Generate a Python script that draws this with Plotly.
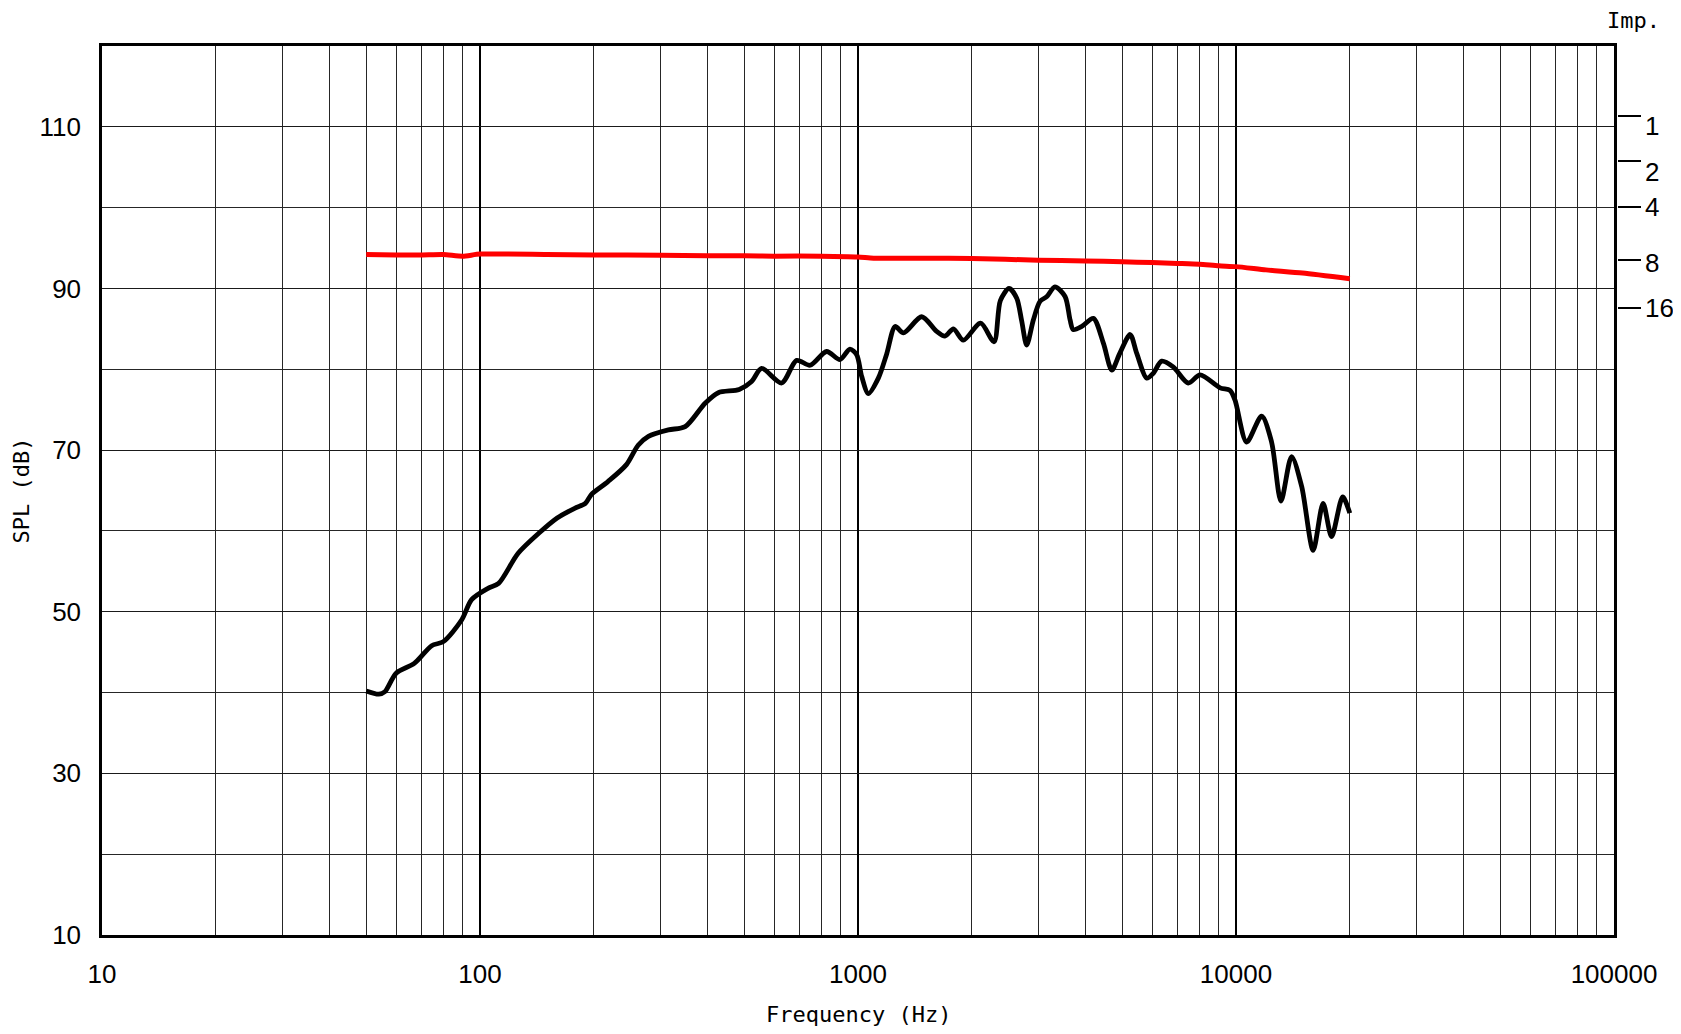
import plotly.graph_objects as go

# ---- data ----
spl_freq = [50, 54, 56, 60, 67, 74.5, 80, 89.5, 95, 105, 112, 126, 143, 160, 178, 190, 197, 218, 244, 262,
            279, 315, 349, 394, 427, 485, 523, 556, 628, 688, 747, 826, 896, 952, 992, 1023, 1065, 1132,
            1191, 1254, 1319, 1474, 1614, 1698, 1788, 1900, 2110, 2290, 2380, 2510, 2630, 2710, 2795,
            2910, 3030, 3160, 3318, 3530, 3640, 3711, 3910, 4194, 4460, 4693, 4930, 5248, 5460, 5808,
            6040, 6359, 6820, 7476, 8035, 9078, 9638, 9937, 10670, 11690, 12420, 13150, 14030, 14920,
            16000, 17000, 17900, 19150, 20000]
spl_db = [40.2, 39.8, 40.1, 42.4, 43.6, 45.8, 46.3, 49.0, 51.5, 52.9, 53.5, 57.2, 59.7, 61.6, 62.8, 63.4,
          64.5, 66.1, 68.2, 70.6, 71.7, 72.5, 72.9, 75.8, 77.1, 77.5, 78.5, 80.1, 78.3, 81.1, 80.5, 82.2,
          81.2, 82.5, 81.8, 79.1, 77.0, 78.9, 81.9, 85.3, 84.5, 86.5, 84.7, 84.1, 85.0, 83.6, 85.7, 83.4,
          88.5, 90.0, 88.8, 86.0, 83.0, 86.1, 88.4, 89.0, 90.2, 89.0, 86.1, 84.9, 85.3, 86.3, 83.2, 79.9,
          82.0, 84.3, 82.0, 78.9, 79.5, 81.0, 80.3, 78.3, 79.3, 77.7, 77.4, 76.2, 71.0, 74.2, 71.0, 63.7,
          69.2, 65.5, 57.6, 63.4, 59.3, 64.2, 62.2]

imp_freq = [50, 60, 70, 80, 90, 100, 150, 200, 300, 400, 500, 600, 800, 1000, 1100, 1500, 2000, 3000,
            4000, 5000, 6000, 7000, 8000, 9000, 10000, 12000, 15000, 20000]
imp_curve = [94.2, 94.15, 94.15, 94.2, 94.0, 94.25, 94.2, 94.15, 94.1, 94.05, 94.05, 94.0, 94.0, 93.9,
             93.75, 93.75, 93.7, 93.5, 93.4, 93.3, 93.2, 93.1, 93.0, 92.8, 92.7, 92.3, 91.9, 91.2]

x_major = [10, 100, 1000, 10000, 100000]
x_major_text = ["10", "100", "1000", "10000", "100000"]
x_minor = [m * d for d in [10, 100, 1000, 10000] for m in range(2, 10)]
y_major = [10, 30, 50, 70, 90, 110]
y_minor = [20, 40, 60, 80, 100]
imp_labels = ["1", "2", "4", "8", "16"]
imp_tick_pos = [111.4, 105.8, 100.1, 93.5, 87.6]   # where the Imp. marks sit on the SPL scale
imp_label_dy = [-10, -11, 0, -3, 0]                 # label offset from its mark (px)

# ---- figure ----
TICKFONT = dict(family="Liberation Sans Narrow, Arial Narrow, Liberation Sans, Arial", size=26, color="black")
TITLEFONT = dict(family="DejaVu Sans Mono, Liberation Mono, monospace", size=22, color="black")

fig = go.Figure()
fig.add_trace(go.Scatter(x=imp_freq, y=imp_curve, mode="lines",
                         line=dict(color="#ff0000", width=5, shape="spline", smoothing=0.6),
                         hoverinfo="skip", showlegend=False))
fig.add_trace(go.Scatter(x=spl_freq, y=spl_db, mode="lines",
                         line=dict(color="black", width=4.8, shape="spline", smoothing=0.8),
                         showlegend=False))
# invisible trace to activate the impedance axis
fig.add_trace(go.Scatter(x=[100], y=[50], yaxis="y2", mode="markers",
                         marker=dict(opacity=0), hoverinfo="skip", showlegend=False))

W, H = 1673, 1018          # page body has an 8 px margin
ml, mr, mt, mb = 94, 64, 38, 91
plot_w = 1512
paper_w = W - ml - mr

fig.update_layout(
    width=W, height=H,
    margin=dict(l=ml, r=mr, t=mt, b=mb, pad=0),
    paper_bgcolor="white", plot_bgcolor="white",
    xaxis=dict(type="log", range=[1, 5], domain=[0, plot_w / paper_w],
               tickvals=x_major, ticktext=x_major_text, tickfont=TICKFONT,
               showgrid=True, gridcolor="black", gridwidth=2,
               minor=dict(tickvals=x_minor, showgrid=True, gridcolor="#262626", gridwidth=1, ticks=""),
               showline=True, linecolor="black", linewidth=2.5, mirror=True,
               ticks="", ticklabelstandoff=14, zeroline=False),
    yaxis=dict(range=[10, 120], tickvals=y_major, tickfont=TICKFONT,
               showgrid=True, gridcolor="#1a1a1a", gridwidth=1,
               minor=dict(tickvals=y_minor, showgrid=True, gridcolor="#262626", gridwidth=1, ticks=""),
               showline=True, linecolor="black", linewidth=2.5, mirror=True,
               ticks="", ticklabelstandoff=13, zeroline=False),
    yaxis2=dict(range=[10, 120], overlaying="y", side="right", anchor="free", position=1,
                tickvals=imp_tick_pos, showticklabels=False, ticks="outside", ticklen=23,
                tickwidth=1.5, tickcolor="black", showgrid=False, showline=False, zeroline=False),
)

annotations = [
    dict(text="Frequency (Hz)", x=0.5 * plot_w / paper_w, y=0, xref="paper", yref="paper",
         xanchor="center", yanchor="middle", yshift=-79, showarrow=False, font=TITLEFONT),
    dict(text="SPL (dB)", x=0, y=0.5, xref="paper", yref="paper", textangle=-90,
         xanchor="center", yanchor="middle", xshift=-81, showarrow=False, font=TITLEFONT),
    dict(text="Imp.", x=1, y=1, xref="paper", yref="paper", xanchor="center", yanchor="middle",
         xshift=16, yshift=26, showarrow=False, font=TITLEFONT),
]
for lab, pos, dy in zip(imp_labels, imp_tick_pos, imp_label_dy):
    annotations.append(dict(text=lab, x=1, y=pos, xref="paper", yref="y", xanchor="left",
                            yanchor="middle", xshift=26, yshift=dy, showarrow=False, font=TICKFONT))
fig.update_layout(annotations=annotations)

fig.write_html("out.html")
